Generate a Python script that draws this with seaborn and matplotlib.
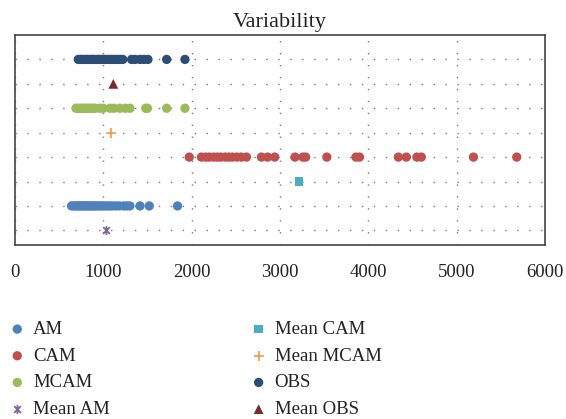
import numpy as np
import pandas as pd
import matplotlib
matplotlib.use("Agg")
import matplotlib.pyplot as plt
from matplotlib.path import Path
import seaborn as sns

# Individual values per ensemble (x axis)
am = [640, 665, 690, 710, 730, 750, 770, 790, 810, 830, 850, 870, 895, 915, 940, 960,
      985, 1010, 1040, 1070, 1100, 1140, 1180, 1230, 1265, 1300, 1415, 1520, 1840]
cam = [1973, 2110, 2160, 2200, 2250, 2290, 2330, 2380, 2420, 2460, 2510, 2560, 2620,
       2790, 2860, 2940, 3170, 3260, 3290, 3530, 3860, 3900, 4340, 4430, 4550, 4600,
       5190, 5680]
mcam = [690, 710, 730, 750, 770, 790, 810, 830, 850, 870, 890, 910, 960, 1000, 1076,
        1120, 1188, 1250, 1302, 1480, 1500, 1717, 1924]
obs = [717, 740, 760, 790, 810, 830, 860, 880, 900, 930, 950, 980, 1000, 1020, 1050,
       1080, 1100, 1130, 1160, 1190, 1220, 1320, 1360, 1415, 1460, 1505, 1717, 1924]

# Ensemble means
mean_am = [1031]
mean_cam = [3214]
mean_mcam = [1087]
mean_obs = [1113]

# Row of each series on the (unlabelled) y axis
rows = {"Mean AM": 1, "AM": 2, "Mean CAM": 3, "CAM": 4,
        "Mean MCAM": 5, "MCAM": 6, "Mean OBS": 7, "OBS": 8}

x_ticks = [0, 1000, 2000, 3000, 4000, 5000, 6000]

colors = {"AM": "#4F81BD", "CAM": "#C0504D", "MCAM": "#9BBB59", "OBS": "#2C4D75",
          "Mean AM": "#8064A2", "Mean CAM": "#4BACC6", "Mean MCAM": "#F79646",
          "Mean OBS": "#772C2A"}

sns.set_theme(style="white")
plt.rcParams["font.family"] = ["Liberation Serif", "DejaVu Serif"]

fig = plt.figure(figsize=(5.66, 4.19), dpi=100)
ax = fig.add_axes([15 / 566, 1 - 245 / 419, 530 / 566, 210 / 419])

# Excel-like star marker: an X with a vertical bar
star = Path([(-1, -1), (1, 1), (-1, 1), (1, -1), (0, -1.3), (0, 1.3)],
            [Path.MOVETO, Path.LINETO, Path.MOVETO, Path.LINETO, Path.MOVETO, Path.LINETO])

series = [
    ("AM", am, "o", 45, 0),
    ("CAM", cam, "o", 45, 0),
    ("MCAM", mcam, "o", 45, 0),
    ("Mean AM", mean_am, star, 40, 1.3),
    ("Mean CAM", mean_cam, "s", 38, 0),
    ("Mean MCAM", mean_mcam, "+", 45, 1.2),
    ("OBS", obs, "o", 45, 0),
    ("Mean OBS", mean_obs, "^", 50, 0),
]

for name, vals, marker, size, lw in series:
    df = pd.DataFrame({"value": vals, "row": [rows[name]] * len(vals)})
    if lw == 0:
        kw = dict(edgecolor="none", color=colors[name])
    else:
        kw = dict(linewidth=lw, color=colors[name], edgecolor=colors[name])
    sns.scatterplot(data=df, x="value", y="row", ax=ax, marker=marker, s=size,
                    label=name, zorder=3, **kw)

ax.set_xlim(0, 6000)
ax.set_ylim(0.4, 9)
ax.set_xticks(x_ticks)
ax.set_xticklabels([str(t) for t in x_ticks])
ax.set_yticks(list(range(1, 9)))
ax.set_yticklabels([])
ax.set_xlabel("")
ax.set_ylabel("")
ax.tick_params(axis="both", length=0, labelsize=13.5, colors="#222222", pad=14)
ax.grid(True, linestyle=(0, (1, 7.6)), color="#777777", linewidth=1.0)
ax.set_axisbelow(True)
for sp in ax.spines.values():
    sp.set_visible(True)
    sp.set_color("#444444")
    sp.set_linewidth(1.2)

ax.set_title("Variability", fontsize=16, color="#222222", pad=6)

handles, labels = ax.get_legend_handles_labels()
ax.get_legend().remove()
fig.legend(handles, labels, ncol=2, loc="upper left",
           bbox_to_anchor=(-9 / 566, 1 - 304 / 419), frameon=False,
           fontsize=13.5, labelspacing=0.51, handletextpad=0.35,
           columnspacing=7.43, handlelength=1.0, labelcolor="#222222")

fig.savefig("out.png", dpi=100)
